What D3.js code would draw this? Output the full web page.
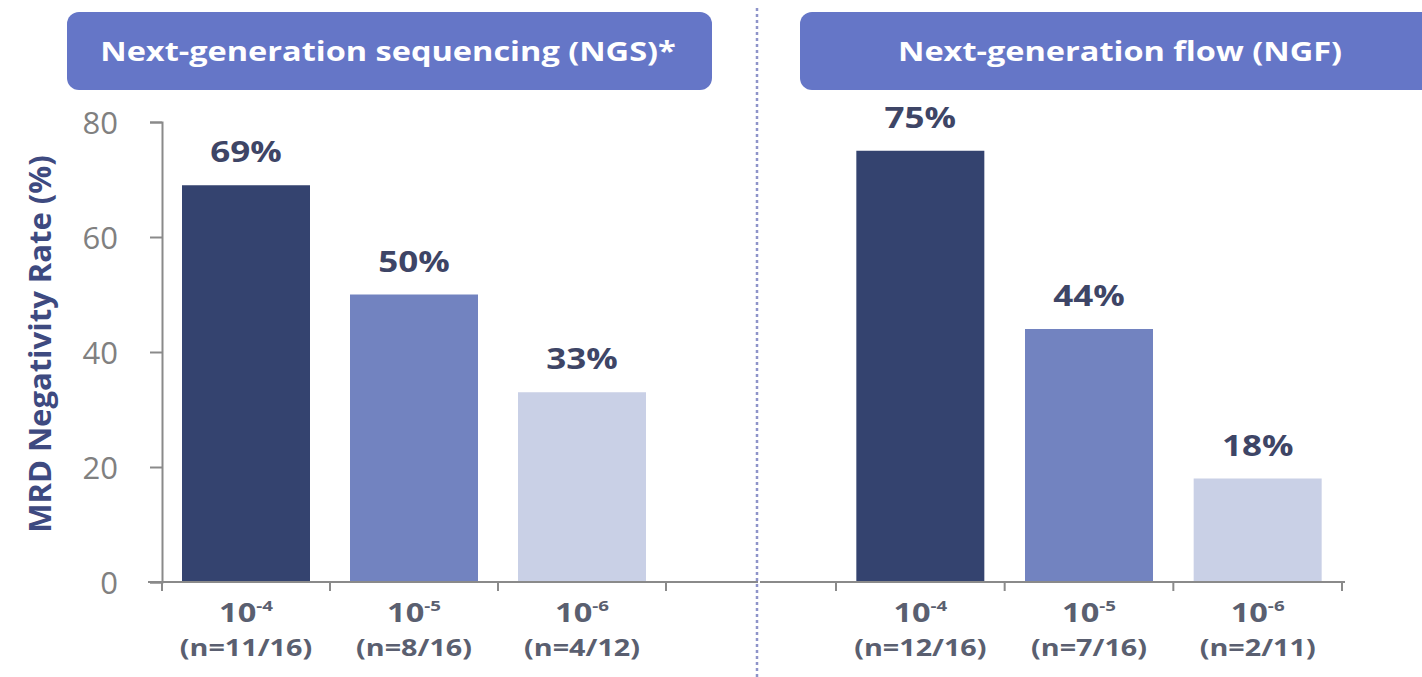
<!DOCTYPE html>
<html><head><meta charset="utf-8">
<script src="https://cdn.jsdelivr.net/npm/d3@7"></script>
<style>body{margin:0;background:#fff}svg{display:block}</style>
</head><body>
<script>
const panelTitles = ["Next-generation sequencing (NGS)*", "Next-generation flow (NGF)"];
const thresholds = ["-4", "-5", "-6"];
const ngsValues = [69, 50, 33];
const ngsCounts = ["(n=11/16)", "(n=8/16)", "(n=4/12)"];
const ngfValues = [75, 44, 18];
const ngfCounts = ["(n=12/16)", "(n=7/16)", "(n=2/11)"];
const yTicks = [0, 20, 40, 60, 80];
const barColors = ["#34436f", "#7283c0", "#c9d0e6"];

const W = 1422, H = 677;
const SX = 1.25; // horizontal stretch of the original slide text
const svg = d3.select("body").append("svg").attr("width", W).attr("height", H);
const font = "'Open Sans', sans-serif";

const y = d3.scaleLinear().domain([0, 80]).range([582, 122]);

function label(g, x, yy, size, color) {
  return g.append("text")
    .attr("transform", `translate(${x},${yy}) scale(${SX},1)`)
    .attr("text-anchor", "middle").attr("fill", color).attr("font-family", font)
    .attr("font-weight", "bold").attr("font-size", size);
}

// divider
svg.append("line").attr("x1", 757).attr("x2", 757).attr("y1", 8).attr("y2", H)
  .attr("stroke", "#8e94c9").attr("stroke-width", 2.5).attr("stroke-dasharray", "3,3");

const panels = [
  {title: panelTitles[0], values: ngsValues, counts: ngsCounts, range: [162, 666], axisExt: [148, 758], box: [67, 12, 645, 78], titleX: 388, yAxis: true},
  {title: panelTitles[1], values: ngfValues, counts: ngfCounts, range: [836, 1342], axisExt: [760, 1345], box: [800, 12, 640, 78], titleX: 1120, yAxis: false}
];

panels.forEach(p => {
  const g = svg.append("g");
  // title box
  g.append("rect").attr("x", p.box[0]).attr("y", p.box[1]).attr("width", p.box[2]).attr("height", p.box[3])
    .attr("rx", 12).attr("fill", "#6576c7");
  label(g, p.titleX, 61, 26, "#ffffff").text(p.title);

  const x = d3.scaleBand().domain(thresholds).range(p.range).paddingInner(0).paddingOuter(0);
  const bw = 128;

  // bars
  g.selectAll("rect.bar").data(p.values).join("rect").attr("class", "bar")
    .attr("x", (d, i) => x(thresholds[i]) + x.bandwidth() / 2 - bw / 2)
    .attr("width", bw)
    .attr("y", d => y(d)).attr("height", d => y(0) - y(d))
    .attr("fill", (d, i) => barColors[i]);

  // value labels
  p.values.forEach((d, i) => {
    label(g, x(thresholds[i]) + x.bandwidth() / 2, y(d) - 23, 28, "#3e4566").text(d + "%");
  });

  // x axis line
  g.append("line").attr("x1", p.axisExt[0]).attr("x2", p.axisExt[1]).attr("y1", y(0)).attr("y2", y(0))
    .attr("stroke", "#8a8a8a").attr("stroke-width", 2);
  const bounds = thresholds.map(t => x(t)).concat([p.range[1]]);
  g.selectAll("line.xt").data(bounds).join("line").attr("class", "xt")
    .attr("x1", d => d).attr("x2", d => d).attr("y1", y(0)).attr("y2", y(0) + 9)
    .attr("stroke", "#8a8a8a").attr("stroke-width", 2);

  // category labels
  thresholds.forEach((t, i) => {
    const cx = x(t) + x.bandwidth() / 2;
    const tx = label(g, cx, 622, 26, "#5a5f70");
    tx.append("tspan").text("10");
    tx.append("tspan").attr("font-size", 15).attr("dy", -11).text(t);
    label(g, cx, 656, 23, "#5a5f70").text(p.counts[i]);
  });

  if (p.yAxis) {
    const ax = g.append("g").attr("transform", "translate(162,0)")
      .call(d3.axisLeft(y).tickValues(yTicks).tickSize(12).tickPadding(32));
    ax.select(".domain").attr("stroke", "#8a8a8a").attr("stroke-width", 2);
    ax.selectAll(".tick line").attr("stroke", "#8a8a8a").attr("stroke-width", 2);
    ax.selectAll(".tick text").attr("fill", "#808080").attr("font-family", font)
      .attr("font-size", 31).attr("dy", "0.36em");
    g.append("text").attr("transform", "translate(51,344) rotate(-90)")
      .attr("text-anchor", "middle").attr("fill", "#3e4a80").attr("font-family", font)
      .attr("font-weight", "bold").attr("font-size", 31).text("MRD Negativity Rate (%)");
  }
});
</script>
</body></html>
